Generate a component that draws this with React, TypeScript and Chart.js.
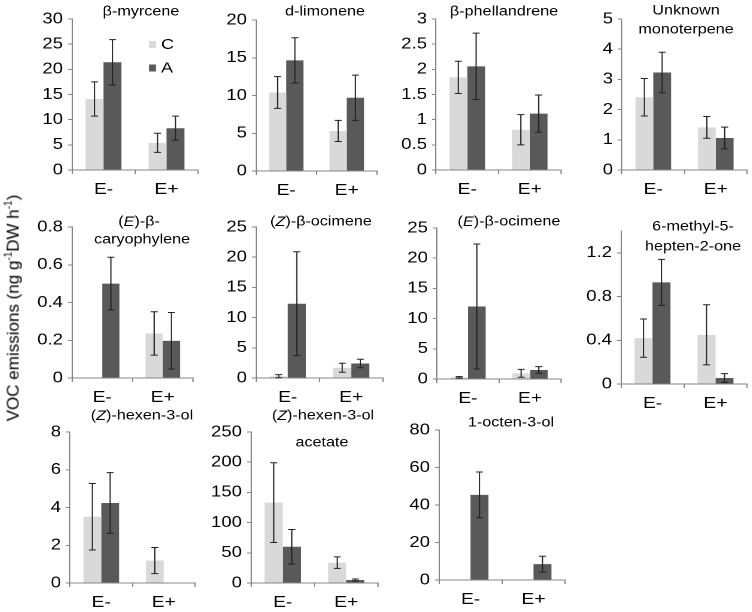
import React, { useEffect, useRef } from 'react';
import { Chart, registerables } from 'chart.js';

Chart.register(...registerables);

// ---------------- data ----------------
const categories = ['E-', 'E+'];
const seriesLabels = ['C', 'A'];

const myrceneC = [14.1, 5.4];
const myrceneCErr = [3.4, 1.9];
const myrceneA = [21.4, 8.3];
const myrceneAErr = [4.5, 2.4];

const limoneneC = [10.4, 5.3];
const limoneneCErr = [2.1, 1.4];
const limoneneA = [14.65, 9.7];
const limoneneAErr = [3.0, 3.0];

const phellandreneC = [1.84, 0.8];
const phellandreneCErr = [0.32, 0.3];
const phellandreneA = [2.06, 1.12];
const phellandreneAErr = [0.66, 0.37];

const unknownC = [2.41, 1.41];
const unknownCErr = [0.62, 0.36];
const unknownA = [3.23, 1.06];
const unknownAErr = [0.67, 0.36];

const caryophyleneC = [0, 0.236];
const caryophyleneCErr = [0, 0.115];
const caryophyleneA = [0.5, 0.197];
const caryophyleneAErr = [0.14, 0.15];

const zOcimeneC = [0.3, 1.7];
const zOcimeneCErr = [0.25, 0.75];
const zOcimeneA = [12.3, 2.4];
const zOcimeneAErr = [8.6, 0.7];

const eOcimeneC = [0.28, 0.94];
const eOcimeneCErr = [0.12, 0.65];
const eOcimeneA = [12.0, 1.5];
const eOcimeneAErr = [10.35, 0.55];

const heptenoneC = [0.42, 0.45];
const heptenoneCErr = [0.175, 0.275];
const heptenoneA = [0.93, 0.055];
const heptenoneAErr = [0.21, 0.04];

const hexenolC = [3.51, 1.19];
const hexenolCErr = [1.76, 0.69];
const hexenolA = [4.24, 0];
const hexenolAErr = [1.61, 0];

const hexenylAcetateC = [133, 33.8];
const hexenylAcetateCErr = [66, 9.5];
const hexenylAcetateA = [60, 5];
const hexenylAcetateAErr = [28.5, 1.7];

const octenolC = [0, 0];
const octenolCErr = [0, 0];
const octenolA = [45.4, 8.5];
const octenolAErr = [12.2, 4.2];

// axis maxima / steps
const yMaxima = [30, 20, 3, 5, 0.8, 25, 25, 1.4, 8, 250, 80];
const ySteps = [5, 5, 0.5, 1, 0.2, 5, 5, 0.4, 2, 50, 20];

// titles: *x* = italic
const titles = [
  ['β-myrcene'],
  ['d-limonene'],
  ['β-phellandrene'],
  ['Unknown', 'monoterpene'],
  ['(*E*)-β-', 'caryophylene'],
  ['(*Z*)-β-ocimene'],
  ['(*E*)-β-ocimene'],
  ['6-methyl-5-', 'hepten-2-one'],
  ['(*Z*)-hexen-3-ol'],
  ['(*Z*)-hexen-3-ol', 'acetate'],
  ['1-octen-3-ol'],
];

const seriesData = [
  [myrceneC, myrceneCErr, myrceneA, myrceneAErr],
  [limoneneC, limoneneCErr, limoneneA, limoneneAErr],
  [phellandreneC, phellandreneCErr, phellandreneA, phellandreneAErr],
  [unknownC, unknownCErr, unknownA, unknownAErr],
  [caryophyleneC, caryophyleneCErr, caryophyleneA, caryophyleneAErr],
  [zOcimeneC, zOcimeneCErr, zOcimeneA, zOcimeneAErr],
  [eOcimeneC, eOcimeneCErr, eOcimeneA, eOcimeneAErr],
  [heptenoneC, heptenoneCErr, heptenoneA, heptenoneAErr],
  [hexenolC, hexenolCErr, hexenolA, hexenolAErr],
  [hexenylAcetateC, hexenylAcetateCErr, hexenylAcetateA, hexenylAcetateAErr],
  [octenolC, octenolCErr, octenolA, octenolAErr],
];

// ---------------- layout (screen px) ----------------
const layouts = [
  { cl: 72, cr: 198, ct: 19, cb: 170, top: 0, t: [[141, 12]] },
  { cl: 256, cr: 377, ct: 20, cb: 171, top: 0, t: [[325, 12]] },
  { cl: 436, cr: 561, ct: 19, cb: 170, top: 0, t: [[504, 12]] },
  { cl: 622, cr: 747, ct: 19, cb: 170, top: 0, t: [[686, 11], [686, 30]] },
  { cl: 72, cr: 193, ct: 227, cb: 378, top: 200, t: [[139, 222], [142, 240]] },
  { cl: 256, cr: 383, ct: 227, cb: 378, top: 200, t: [[321, 222]] },
  { cl: 437, cr: 561, ct: 228, cb: 379, top: 200, t: [[509, 222]] },
  { cl: 621, cr: 747, ct: 231, cb: 384, top: 200, t: [[693, 227], [693, 247]] },
  { cl: 70, cr: 195, ct: 432, cb: 583, top: 402, t: [[142, 416]] },
  { cl: 251, cr: 378, ct: 432, cb: 583, top: 402, t: [[323, 416], [322, 443]] },
  { cl: 439, cr: 565, ct: 430, cb: 580, top: 402, t: [[511, 423]] },
];

const SX = 1.2; // horizontal stretch of the original figure
const YW = 56; // y axis area width (screen)
const XH = 30; // x axis area height
const PR = 6; // right padding (screen)
const FONT = "'Liberation Sans', Arial, sans-serif";
const LIGHT = '#d9d9d9';
const DARK = '#595959';
const AXIS = '#868686';
const ERR = '#222222';

function drawTitle(ctx: CanvasRenderingContext2D, line: string, cx: number, cy: number) {
  const parts = line.split('*');
  const fonts = parts.map((_, i) => (i % 2 === 1 ? 'italic ' : '') + `13.5px ${FONT}`);
  let total = 0;
  const widths = parts.map((p, i) => {
    ctx.font = fonts[i];
    const w = ctx.measureText(p).width;
    total += w;
    return w;
  });
  let x = cx - total / 2;
  parts.forEach((p, i) => {
    ctx.font = fonts[i];
    ctx.fillText(p, x, cy);
    x += widths[i];
  });
}

function Panel({ idx }: { idx: number }) {
  const ref = useRef<HTMLCanvasElement>(null);
  const L = layouts[idx];
  const left = L.cl - YW;
  const right = L.cr + PR;
  const sw = right - left;
  const h = L.cb + XH - L.top;
  const lw = Math.round(sw / SX);
  const sx = sw / lw;

  useEffect(() => {
    const [cVals, cErr, aVals, aErr] = seriesData[idx];
    const errPlugin = {
      id: 'errbars' + idx,
      afterDatasetsDraw(chart: any) {
        const ctx = chart.ctx;
        const ys = chart.scales.y;
        ctx.save();
        ctx.strokeStyle = ERR;
        ctx.lineWidth = 1;
        chart.data.datasets.forEach((ds: any, di: number) => {
          const meta = chart.getDatasetMeta(di);
          meta.data.forEach((bar: any, j: number) => {
            const e = ds.errors[j];
            if (!e) return;
            const v = ds.data[j];
            const x = bar.x;
            const y1 = ys.getPixelForValue(v + e);
            const y2 = ys.getPixelForValue(Math.max(v - e, 0));
            const cw = 3.5 / sx;
            ctx.beginPath();
            ctx.moveTo(x, y1);
            ctx.lineTo(x, y2);
            ctx.moveTo(x - cw, y1);
            ctx.lineTo(x + cw, y1);
            ctx.moveTo(x - cw, y2);
            ctx.lineTo(x + cw, y2);
            ctx.stroke();
          });
        });
        ctx.restore();
      },
    };
    const textPlugin = {
      id: 'texts' + idx,
      afterDraw(chart: any) {
        const ctx = chart.ctx;
        ctx.save();
        ctx.fillStyle = '#000';
        ctx.textBaseline = 'middle';
        ctx.textAlign = 'left';
        titles[idx].forEach((line, li) => {
          const [x, y] = L.t[li];
          drawTitle(ctx, line, (x - left) / sx, y - L.top);
        });
        if (idx === 0) {
          const items = [
            { label: seriesLabels[0], color: LIGHT, y: 44.5 },
            { label: seriesLabels[1], color: DARK, y: 68 },
          ];
          items.forEach((it) => {
            ctx.fillStyle = it.color;
            ctx.fillRect((149 - left) / sx, it.y - L.top - 3.5, 7 / sx, 7);
            ctx.fillStyle = '#000';
            ctx.font = `15px ${FONT}`;
            ctx.fillText(it.label, (161 - left) / sx, it.y - L.top + 0.5);
          });
        }
        ctx.restore();
      },
    };
    const chart = new Chart(ref.current as HTMLCanvasElement, {
      type: 'bar',
      data: {
        labels: categories,
        datasets: [
          { label: seriesLabels[0], data: cVals, errors: cErr, backgroundColor: LIGHT, borderWidth: 0, categoryPercentage: 0.57, barPercentage: 1 } as any,
          { label: seriesLabels[1], data: aVals, errors: aErr, backgroundColor: DARK, borderWidth: 0, categoryPercentage: 0.57, barPercentage: 1 } as any,
        ],
      },
      options: {
        responsive: false,
        animation: false,
        devicePixelRatio: 2,
        events: [],
        layout: { padding: { top: L.ct - L.top, right: PR / sx, left: 0, bottom: 0 } },
        plugins: { legend: { display: false }, tooltip: { enabled: false }, title: { display: false } },
        scales: {
          x: {
            type: 'category',
            offset: true,
            grid: { offset: true, drawOnChartArea: false, drawTicks: true, tickLength: 4, color: AXIS, lineWidth: 1 },
            border: { display: true, color: AXIS, width: 1 },
            ticks: { color: '#000', font: { family: FONT, size: 16 }, padding: 6, maxRotation: 0, autoSkip: false },
            afterFit: (s: any) => {
              s.height = XH;
            },
          },
          y: {
            min: 0,
            max: yMaxima[idx],
            grid: { drawOnChartArea: false, drawTicks: true, tickLength: 4 / sx, color: AXIS, lineWidth: 1 },
            border: { display: true, color: AXIS, width: 1 },
            ticks: {
              stepSize: ySteps[idx],
              includeBounds: false,
              color: '#000',
              font: { family: FONT, size: 15.5 },
              padding: 5 / sx,
              callback: (v: any) => String(Math.round(Number(v) * 1000) / 1000),
            },
            afterFit: (s: any) => {
              s.width = YW / sx;
            },
          },
        },
      } as any,
      plugins: [errPlugin, textPlugin],
    });
    return () => chart.destroy();
  }, []);

  return (
    <canvas
      ref={ref}
      width={lw}
      height={h}
      style={{ position: 'absolute', left, top: L.top, width: sw, height: h }}
    />
  );
}

export default function App() {
  return (
    <div style={{ position: 'absolute', left: 0, top: 0, width: 752, height: 612, background: '#fff', overflow: 'hidden' }}>
      {layouts.map((_, i) => (
        <Panel key={i} idx={i} />
      ))}
      <div
        style={{
          position: 'absolute',
          left: 13,
          top: 308,
          transform: 'translate(-50%, -50%) rotate(-90deg)',
          whiteSpace: 'nowrap',
          fontFamily: FONT,
          fontSize: 17,
          color: '#000',
        }}
      >
        VOC emissions (ng g<sup style={{ fontSize: 10 }}>-1</sup>DW h<sup style={{ fontSize: 10 }}>-1</sup>)
      </div>
    </div>
  );
}
